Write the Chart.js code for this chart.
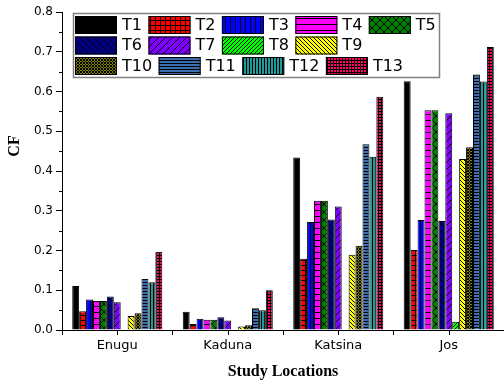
<!DOCTYPE html>
<html>
<head>
<meta charset="utf-8">
<script src="https://cdn.jsdelivr.net/npm/chart.js@4/dist/chart.umd.min.js"></script>
<style>
  html, body { margin: 0; padding: 0; background: #fff; }
</style>
</head>
<body>
<canvas id="cfChart" width="504" height="383"></canvas>
<script>
// data
const locations = ['Enugu', 'Kaduna', 'Katsina', 'Jos'];
const treatments = ['T1', 'T2', 'T3', 'T4', 'T5', 'T6', 'T7', 'T8', 'T9', 'T10', 'T11', 'T12', 'T13'];
const t1  = [0.111, 0.046, 0.434, 0.626];
const t2  = [0.047, 0.015, 0.179, 0.201];
const t3  = [0.077, 0.028, 0.272, 0.277];
const t4  = [0.073, 0.026, 0.325, 0.553];
const t5  = [0.073, 0.026, 0.325, 0.553];
const t6  = [0.084, 0.032, 0.278, 0.274];
const t7  = [0.070, 0.024, 0.311, 0.545];
const t8  = [0.000, 0.000, 0.000, 0.021];
const t9  = [0.035, 0.009, 0.189, 0.430];
const t10 = [0.042, 0.012, 0.212, 0.460];
const t11 = [0.128, 0.055, 0.467, 0.643];
const t12 = [0.120, 0.050, 0.436, 0.625];
const t13 = [0.197, 0.100, 0.587, 0.712];
const seriesValues = [t1, t2, t3, t4, t5, t6, t7, t8, t9, t10, t11, t12, t13];
const yTicks = [0, 0.1, 0.2, 0.3, 0.4, 0.5, 0.6, 0.7, 0.8];

const canvas = document.getElementById('cfChart');
const ctx = canvas.getContext('2d');

// hatch fills
function hatch(bg, size, kind) {
  const c = document.createElement('canvas');
  c.width = size; c.height = size;
  const g = c.getContext('2d');
  g.fillStyle = bg;
  g.fillRect(0, 0, size, size);
  g.strokeStyle = '#000';
  g.lineWidth = 1;
  g.beginPath();
  const s = size;
  if (kind === 'grid' || kind === 'vert') { g.moveTo(0.5, 0); g.lineTo(0.5, s); }
  if (kind === 'grid' || kind === 'horiz') { g.moveTo(0, 0.5); g.lineTo(s, 0.5); }
  if (kind === 'slash' || kind === 'cross') {
    g.moveTo(0, s); g.lineTo(s, 0);
    g.moveTo(-1, 1); g.lineTo(1, -1);
    g.moveTo(s - 1, s + 1); g.lineTo(s + 1, s - 1);
  }
  if (kind === 'back' || kind === 'cross') {
    g.moveTo(0, 0); g.lineTo(s, s);
    g.moveTo(s - 1, -1); g.lineTo(s + 1, 1);
    g.moveTo(-1, s - 1); g.lineTo(1, s + 1);
  }
  g.stroke();
  return ctx.createPattern(c, 'repeat');
}

const fills = [
  '#000000',
  hatch('#ff0000', 5, 'grid'),
  hatch('#0000ff', 5, 'vert'),
  hatch('#ff00ff', 6, 'horiz'),
  hatch('#008000', 8, 'cross'),
  hatch('#000080', 7, 'back'),
  hatch('#8000ff', 7, 'slash'),
  hatch('#00ff00', 4, 'slash'),
  hatch('#ffff00', 4, 'back'),
  hatch('#808000', 3, 'cross'),
  hatch('#3a6eb0', 3, 'horiz'),
  hatch('#1f9a9a', 3, 'vert'),
  hatch('#ff0066', 3, 'grid')
];

const datasets = treatments.map((name, i) => ({
  label: name,
  data: seriesValues[i],
  backgroundColor: fills[i],
  borderColor: '#000',
  borderWidth: 1,
  categoryPercentage: 0.815,
  barPercentage: 1
}));

const extras = {
  id: 'extras',
  afterDraw(chart) {
    const c = chart.ctx;
    const xs = chart.scales.x, ys = chart.scales.y;
    const area = chart.chartArea;
    c.save();
    c.strokeStyle = '#000';
    c.lineWidth = 1;
    c.beginPath();
    // minor y ticks
    for (let i = 0; i < yTicks.length - 1; i++) {
      const y = Math.round(ys.getPixelForValue((yTicks[i] + yTicks[i + 1]) / 2)) + 0.5;
      c.moveTo(area.left - 3, y); c.lineTo(area.left, y);
    }
    // x ticks at category centres
    locations.forEach((_, i) => {
      const x = Math.round(xs.getPixelForValue(i)) + 0.5;
      c.moveTo(x, area.bottom); c.lineTo(x, area.bottom + 5);
    });
    c.stroke();

    // y title
    c.fillStyle = '#000';
    c.font = 'bold 16px "Liberation Serif"';
    c.textAlign = 'center';
    c.textBaseline = 'middle';
    c.translate(15, 146);
    c.rotate(-Math.PI / 2);
    c.fillText('CF', 0, 0);
    c.restore();

    // legend
    c.save();
    c.fillStyle = '#fff';
    c.fillRect(73, 13, 366, 64);
    c.strokeStyle = '#808080';
    c.lineWidth = 1.5;
    c.strokeRect(73.5, 13.5, 366, 64);
    const rows = [[0, 1, 2, 3, 4], [5, 6, 7, 8], [9, 10, 11, 12]];
    const rowTop = [16, 36.5, 57];
    c.font = '16px "DejaVu Sans"';
    c.textAlign = 'left';
    c.textBaseline = 'middle';
    c.lineWidth = 1;
    rows.forEach((row, r) => {
      let x = 75;
      row.forEach(i => {
        const y = rowTop[r];
        c.fillStyle = fills[i];
        c.fillRect(x, y, 42, 18);
        c.strokeStyle = '#000';
        c.strokeRect(x + 0.5, y + 0.5, 41, 17);
        c.fillStyle = '#000';
        c.fillText(treatments[i], x + 47, y + 9.5);
        x += 47 + c.measureText(treatments[i]).width + 6.5;
      });
    });
    c.restore();
  }
};

new Chart(ctx, {
  type: 'bar',
  data: { labels: locations, datasets: datasets },
  options: {
    responsive: false,
    animation: false,
    devicePixelRatio: 1,
    layout: { padding: { top: 12, right: 0, left: 0, bottom: 0 } },
    plugins: {
      legend: { display: false },
      tooltip: { enabled: false }
    },
    scales: {
      x: {
        grid: { drawOnChartArea: false, color: '#000', tickLength: 5 },
        border: { color: '#000', width: 1 },
        ticks: { color: '#000', font: { family: 'DejaVu Sans', size: 13 }, padding: 3 },
        title: {
          display: true,
          text: 'Study Locations',
          color: '#000',
          font: { family: 'Liberation Serif', size: 16, weight: 'bold' },
          padding: { top: 0, bottom: 2 }
        },
        afterFit(scale) { scale.height = 53; }
      },
      y: {
        min: 0,
        max: 0.8,
        grid: { drawOnChartArea: false, color: '#000', tickLength: 6 },
        border: { color: '#000', width: 1 },
        ticks: {
          stepSize: 0.1,
          color: '#000',
          font: { family: 'DejaVu Sans', size: 12 },
          padding: 3,
          callback: v => v.toFixed(1)
        },
        afterFit(scale) { scale.width = 62; }
      }
    }
  },
  plugins: [extras]
});
</script>
</body>
</html>
